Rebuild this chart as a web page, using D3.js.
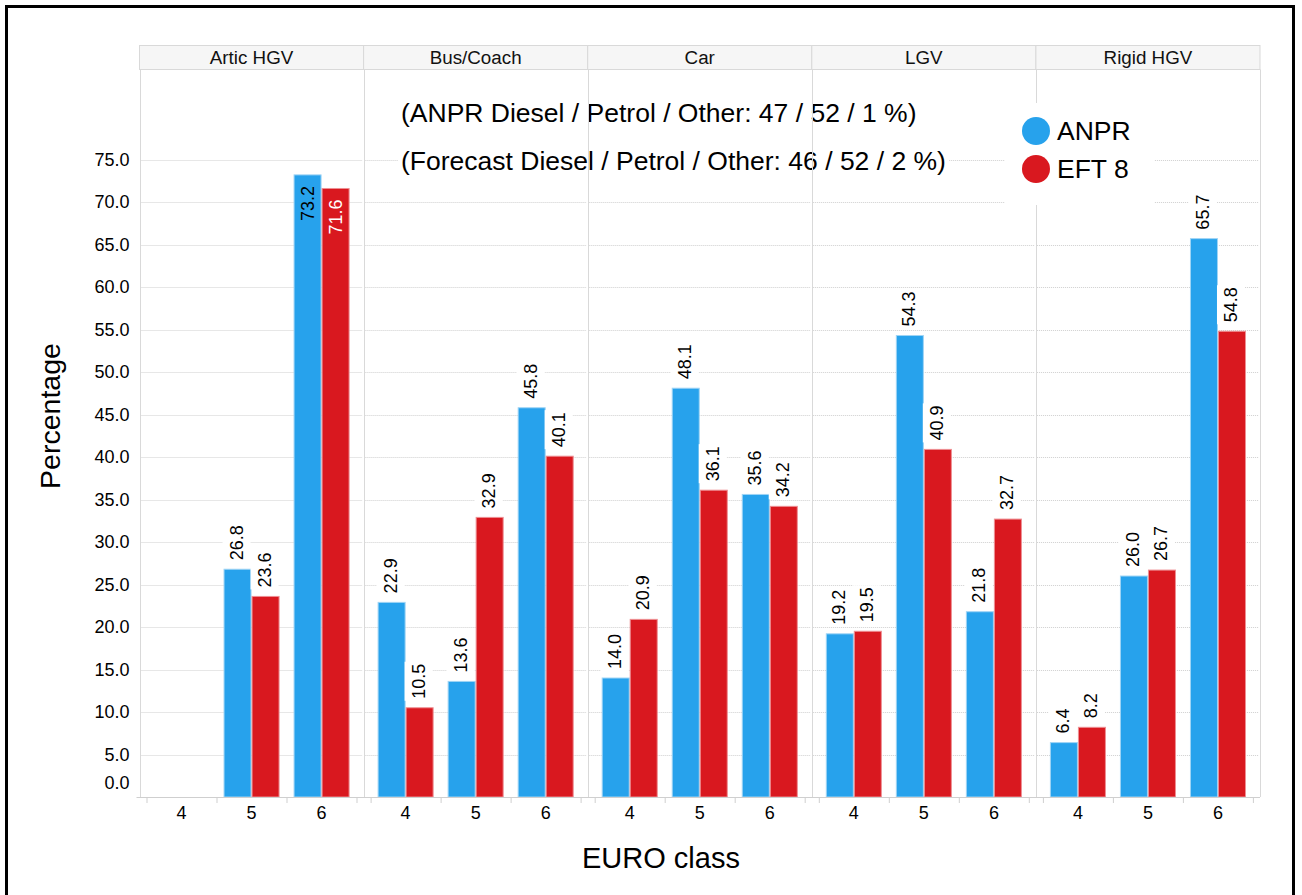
<!DOCTYPE html>
<html>
<head>
<meta charset="utf-8">
<script src="https://cdn.jsdelivr.net/npm/d3@7"></script>
<style>
  html, body { margin: 0; padding: 0; background: #fff; }
  svg { display: block; font-family: "Liberation Sans", Arial, sans-serif; }
</style>
</head>
<body>
<svg id="chart" width="1302" height="895"></svg>
<script>
// ---- data ----
const panels = ["Artic HGV", "Bus/Coach", "Car", "LGV", "Rigid HGV"];
const euroClasses = ["4", "5", "6"];
const seriesNames = ["ANPR", "EFT 8"];
const anprValues = [
  [null, 26.8, 73.2],
  [22.9, 13.6, 45.8],
  [14.0, 48.1, 35.6],
  [19.2, 54.3, 21.8],
  [6.4, 26.0, 65.7]
];
const eftValues = [
  [null, 23.6, 71.6],
  [10.5, 32.9, 40.1],
  [20.9, 36.1, 34.2],
  [19.5, 40.9, 32.7],
  [8.2, 26.7, 54.8]
];
const yTicks = [0, 5, 10, 15, 20, 25, 30, 35, 40, 45, 50, 55, 60, 65, 70, 75];
const annotationLines = [
  "(ANPR Diesel / Petrol / Other: 47 / 52 / 1 %)",
  "(Forecast Diesel / Petrol / Other: 46 / 52 / 2 %)"
];
const seriesColors = ["#27A2EC", "#D9181F"];
const seriesStrokes = ["#9fd4f5", "#ee8f93"];
const insideLabelColors = ["#000", "#fff"];

(function () {
// ---- layout ----
const svg = d3.select("#chart");
const pLeft = 139.5, pRight = 1260, pTop = 69.5, headerTop = 45.5, pBottom = 797;

const y = d3.scaleLinear().domain([0, 85.6]).range([pBottom, pTop]);
const px = d3.scaleBand().domain(panels).range([pLeft, pRight]).padding(0);
const cx = d3.scaleBand().domain(euroClasses).range([0, px.bandwidth()])
  .paddingInner(0).paddingOuter(0.1);
const sx = d3.scaleBand().domain(seriesNames).range([0, cx.bandwidth()])
  .paddingInner(0).paddingOuter(0.25);

const rows = [];
panels.forEach((p, i) => {
  euroClasses.forEach((c, j) => {
    rows.push({panel: p, cls: c, series: 0, value: anprValues[i][j]});
    rows.push({panel: p, cls: c, series: 1, value: eftValues[i][j]});
  });
});
const bars = rows.filter(d => d.value != null);

// outer frame
svg.append("rect").attr("x", 6.5).attr("y", 6.5).attr("width", 1287).attr("height", 900)
  .attr("fill", "none").attr("stroke", "#000").attr("stroke-width", 3);

// gridlines
const grid = svg.append("g");
panels.forEach(p => {
  grid.selectAll(null).data(yTicks.filter(t => t > 0)).join("line")
    .attr("x1", px(p) + 1).attr("x2", px(p) + px.bandwidth() - 1)
    .attr("y1", d => Math.round(y(d)) + 0.5).attr("y2", d => Math.round(y(d)) + 0.5)
    .attr("stroke", "#cfcfcf").attr("stroke-width", 1).attr("stroke-dasharray", "1,1");
});

// annotation (white background covering gridlines)
const ann = svg.append("g");
annotationLines.forEach((t, i) => {
  const tx = ann.append("text").attr("x", 401).attr("y", 121.5 + i * 48.5)
    .attr("font-size", 26.5).attr("fill", "#000").text(t);
  const bb = tx.node().getBBox();
  ann.insert("rect", "text").attr("x", bb.x - 3).attr("y", bb.y).attr("width", bb.width + 6)
    .attr("height", bb.height).attr("fill", "#fff");
});

// panel dividers & header
const frame = svg.append("g");
panels.forEach(p => {
  frame.append("rect").attr("x", px(p)).attr("y", headerTop).attr("width", px.bandwidth())
    .attr("height", pTop - headerTop).attr("fill", "#f6f6f6").attr("stroke", "#d9d9d9");
  frame.append("text").attr("x", px(p) + px.bandwidth() / 2).attr("y", 63.5)
    .attr("text-anchor", "middle").attr("font-size", 18.8).attr("fill", "#111").text(p);
  frame.append("line").attr("x1", Math.round(px(p)) + 0.5).attr("x2", Math.round(px(p)) + 0.5)
    .attr("y1", pTop).attr("y2", pBottom).attr("stroke", "#d9d9d9");
});
frame.append("line").attr("x1", pRight + 0.5).attr("x2", pRight + 0.5)
  .attr("y1", pTop).attr("y2", pBottom).attr("stroke", "#d9d9d9");

// bars
const barG = svg.append("g");
barG.selectAll("rect").data(bars).join("rect")
  .attr("x", d => px(d.panel) + cx(d.cls) + sx(seriesNames[d.series]) + 0.5)
  .attr("y", d => y(d.value))
  .attr("width", sx.bandwidth() - 1)
  .attr("height", d => pBottom - y(d.value))
  .attr("fill", d => seriesColors[d.series])
  .attr("stroke", d => seriesStrokes[d.series])
  .attr("stroke-width", 1);

// value labels
const labG = svg.append("g");
bars.forEach(d => {
  const bx = px(d.panel) + cx(d.cls) + sx(seriesNames[d.series]) + sx.bandwidth() / 2;
  const inside = d.value > 70;
  const g = labG.append("g");
  const txt = d3.format(".1f")(d.value);
  if (inside) {
    g.attr("transform", `translate(${bx},${y(d.value) + 11}) rotate(-90)`);
    g.append("text").attr("x", 0).attr("y", 0).attr("text-anchor", "end")
      .attr("dominant-baseline", "central").attr("font-size", 18)
      .attr("fill", insideLabelColors[d.series]).text(txt);
  } else {
    g.attr("transform", `translate(${bx - 1},${y(d.value) - 9}) rotate(-90)`);
    const t = g.append("text").attr("x", 0).attr("y", 0).attr("text-anchor", "start")
      .attr("dominant-baseline", "central").attr("font-size", 18).attr("fill", "#000").text(txt);
    const bb = t.node().getBBox();
    g.insert("rect", "text").attr("x", bb.x - 2).attr("y", bb.y - 4)
      .attr("width", bb.width + 4).attr("height", bb.height + 8).attr("fill", "#fff");
  }
});

// x axis baseline and ticks
const xa = svg.append("g");
xa.append("line").attr("x1", pLeft - 3).attr("x2", pRight).attr("y1", pBottom + 0.5).attr("y2", pBottom + 0.5)
  .attr("stroke", "#cfcfcf");
panels.forEach(p => {
  const g = xa.append("g").attr("transform", `translate(${px(p)},${pBottom})`)
    .call(d3.axisBottom(cx).tickSize(0).tickPadding(9));
  g.select(".domain").remove();
  g.selectAll("text").attr("font-size", 18).attr("font-family", "Liberation Sans, Arial, sans-serif")
    .attr("fill", "#000");
  const bounds = euroClasses.map(c => cx(c)).concat([cx(euroClasses[2]) + cx.bandwidth()]);
  g.selectAll(".bt").data(bounds).join("line").attr("class", "bt")
    .attr("x1", d => Math.round(d) + 0.5).attr("x2", d => Math.round(d) + 0.5)
    .attr("y1", 0).attr("y2", 6).attr("stroke", "#cfcfcf");
});

// y axis
const ya = svg.append("g").attr("transform", `translate(${pLeft},0)`)
  .call(d3.axisLeft(y).tickValues(yTicks).tickFormat(d3.format(".1f")).tickSize(0).tickPadding(10));
ya.select(".domain").remove();
ya.selectAll("text").attr("font-size", 18).attr("font-family", "Liberation Sans, Arial, sans-serif")
  .attr("fill", "#000")
  .attr("transform", d => d === 0 ? "translate(0,-14)" : null);

// axis titles
svg.append("text").attr("x", 661).attr("y", 868).attr("text-anchor", "middle")
  .attr("font-size", 29).attr("fill", "#000").text("EURO class");
svg.append("text").attr("transform", "translate(60,416) rotate(-90)").attr("text-anchor", "middle")
  .attr("font-size", 28.5).attr("fill", "#000").text("Percentage");

// legend
const lg = svg.append("g");
lg.append("rect").attr("x", 1005).attr("y", 103).attr("width", 149).attr("height", 102).attr("fill", "#fff");
seriesNames.forEach((s, i) => {
  lg.append("circle").attr("cx", 1036).attr("cy", 131 + i * 38).attr("r", 14).attr("fill", seriesColors[i]);
  lg.append("text").attr("x", 1057).attr("y", 140 + i * 38).attr("font-size", 26.5).attr("fill", "#000").text(s);
});
})();
</script>
</body>
</html>
